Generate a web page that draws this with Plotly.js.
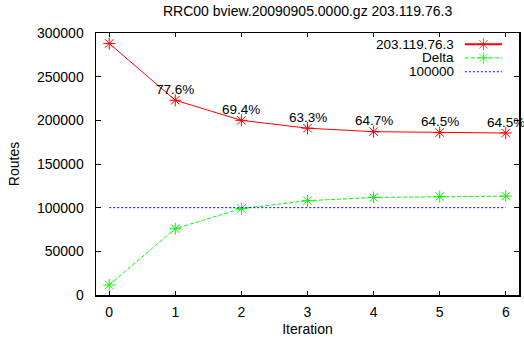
<!DOCTYPE html>
<html>
<head>
<meta charset="utf-8">
<script src="https://cdn.plot.ly/plotly-3.0.1.min.js"></script>
<style>html,body{margin:0;padding:0;background:#fff;}#chart{width:524px;height:337px;}</style>
</head>
<body>
<div id="chart"></div>
<script>
// ---- data ----
const iterations = [0, 1, 2, 3, 4, 5, 6];
const routes = [288000, 223000, 200000, 191000, 187000, 186000, 185500];
const delta = [11500, 76000, 99000, 108000, 111700, 112800, 113200];
const threshold = 100000;
const pctLabels = ["", "77.6%", "69.4%", "63.3%", "64.7%", "64.5%", "64.5%"];
const seriesNames = ["203.119.76.3", "Delta", "100000"];
const yTicks = [0, 50000, 100000, 150000, 200000, 250000, 300000];

const FONT = "Liberation Sans";
const FS = 14;
const colors = ["#ff0000", "#00ff00", "#0000ff"];

const traces = [
  {x: iterations, y: routes, mode: "lines+markers", name: seriesNames[0],
   line: {color: colors[0], width: 1, dash: "solid"},
   marker: {symbol: "asterisk-open", size: 10, color: colors[0], line: {color: colors[0], width: 1}}},
  {x: iterations, y: delta, mode: "lines+markers", name: seriesNames[1],
   line: {color: colors[1], width: 1, dash: "4px,2px"},
   marker: {symbol: "asterisk-open", size: 10, color: colors[1], line: {color: colors[1], width: 1}}},
  {x: [iterations[0], iterations[iterations.length - 1]], y: [threshold, threshold], mode: "lines", name: seriesNames[2],
   line: {color: colors[2], width: 1, dash: "2px,2px"}}
];

// custom gnuplot-style legend (text left, sample right) on a hidden 0..1 overlay axis
const legRowsY = [0.957, 0.905, 0.852];
const legX0 = 0.872, legX1 = 0.960, legXm = (legX0 + legX1) / 2;
const legendTraces = seriesNames.map((n, i) => ({
  x: [legX0, legXm, legX1], y: [legRowsY[i], legRowsY[i], legRowsY[i]],
  xaxis: "x2", yaxis: "y2", mode: i < 2 ? "lines+markers" : "lines", showlegend: false, hoverinfo: "skip",
  line: {color: colors[i], width: i === 0 ? 2 : 1, dash: i === 0 ? "solid" : (i === 1 ? "4px,2px" : "2px,2px")},
  marker: {symbol: "asterisk-open", size: [0, 10, 0], color: colors[i], line: {color: colors[i], width: 1}}
}));

const annotations = [];
iterations.forEach((it, i) => {
  if (pctLabels[i]) annotations.push({
    x: it, y: routes[i], xref: "x", yref: "y", text: pctLabels[i], showarrow: false,
    yshift: 11, font: {family: FONT, size: 13.5, color: "#000"}, xanchor: "center", yanchor: "middle"
  });
});
seriesNames.forEach((n, i) => annotations.push({
  x: 0.851, y: legRowsY[i], xref: "paper", yref: "paper", text: n, showarrow: false,
  xanchor: "right", yanchor: "middle", font: {family: FONT, size: 13.5, color: "#000"}
}));

const layout = {
  width: 524, height: 337,
  margin: {l: 96, r: 5, t: 33, b: 42, pad: 0},
  paper_bgcolor: "#fff", plot_bgcolor: "#fff",
  showlegend: false,
  font: {family: FONT, size: FS, color: "#000"},
  title: {text: "RRC00 bview.20090905.0000.gz 203.119.76.3", x: 0.587, xanchor: "center", y: 0.967, yanchor: "middle",
          font: {family: FONT, size: FS, color: "#000"}},
  xaxis: {range: [-0.2, 6.2], tickvals: iterations, ticks: "inside", ticklen: 4, tickcolor: "#000",
          showline: true, linecolor: "#000", linewidth: 1.5, mirror: "allticks", showgrid: false, zeroline: false,
          ticklabelstandoff: 4, tickfont: {family: FONT, size: FS},
          title: {text: "Iteration", standoff: 11, font: {family: FONT, size: FS}}},
  yaxis: {range: [0, 300000], tickvals: yTicks, ticks: "inside", ticklen: 5, tickcolor: "#000",
          showline: true, linecolor: "#000", linewidth: 1.5, mirror: "allticks", showgrid: false, zeroline: false,
          ticklabelstandoff: 8, tickformat: "d", tickfont: {family: FONT, size: FS},
          title: {text: "Routes", standoff: 14, font: {family: FONT, size: FS}}},
  xaxis2: {overlaying: "x", range: [0, 1], visible: false, fixedrange: true},
  yaxis2: {overlaying: "y", range: [0, 1], visible: false, fixedrange: true},
  annotations: annotations
};

Plotly.newPlot("chart", traces.concat(legendTraces), layout, {staticPlot: true, displayModeBar: false});
</script>
</body>
</html>
